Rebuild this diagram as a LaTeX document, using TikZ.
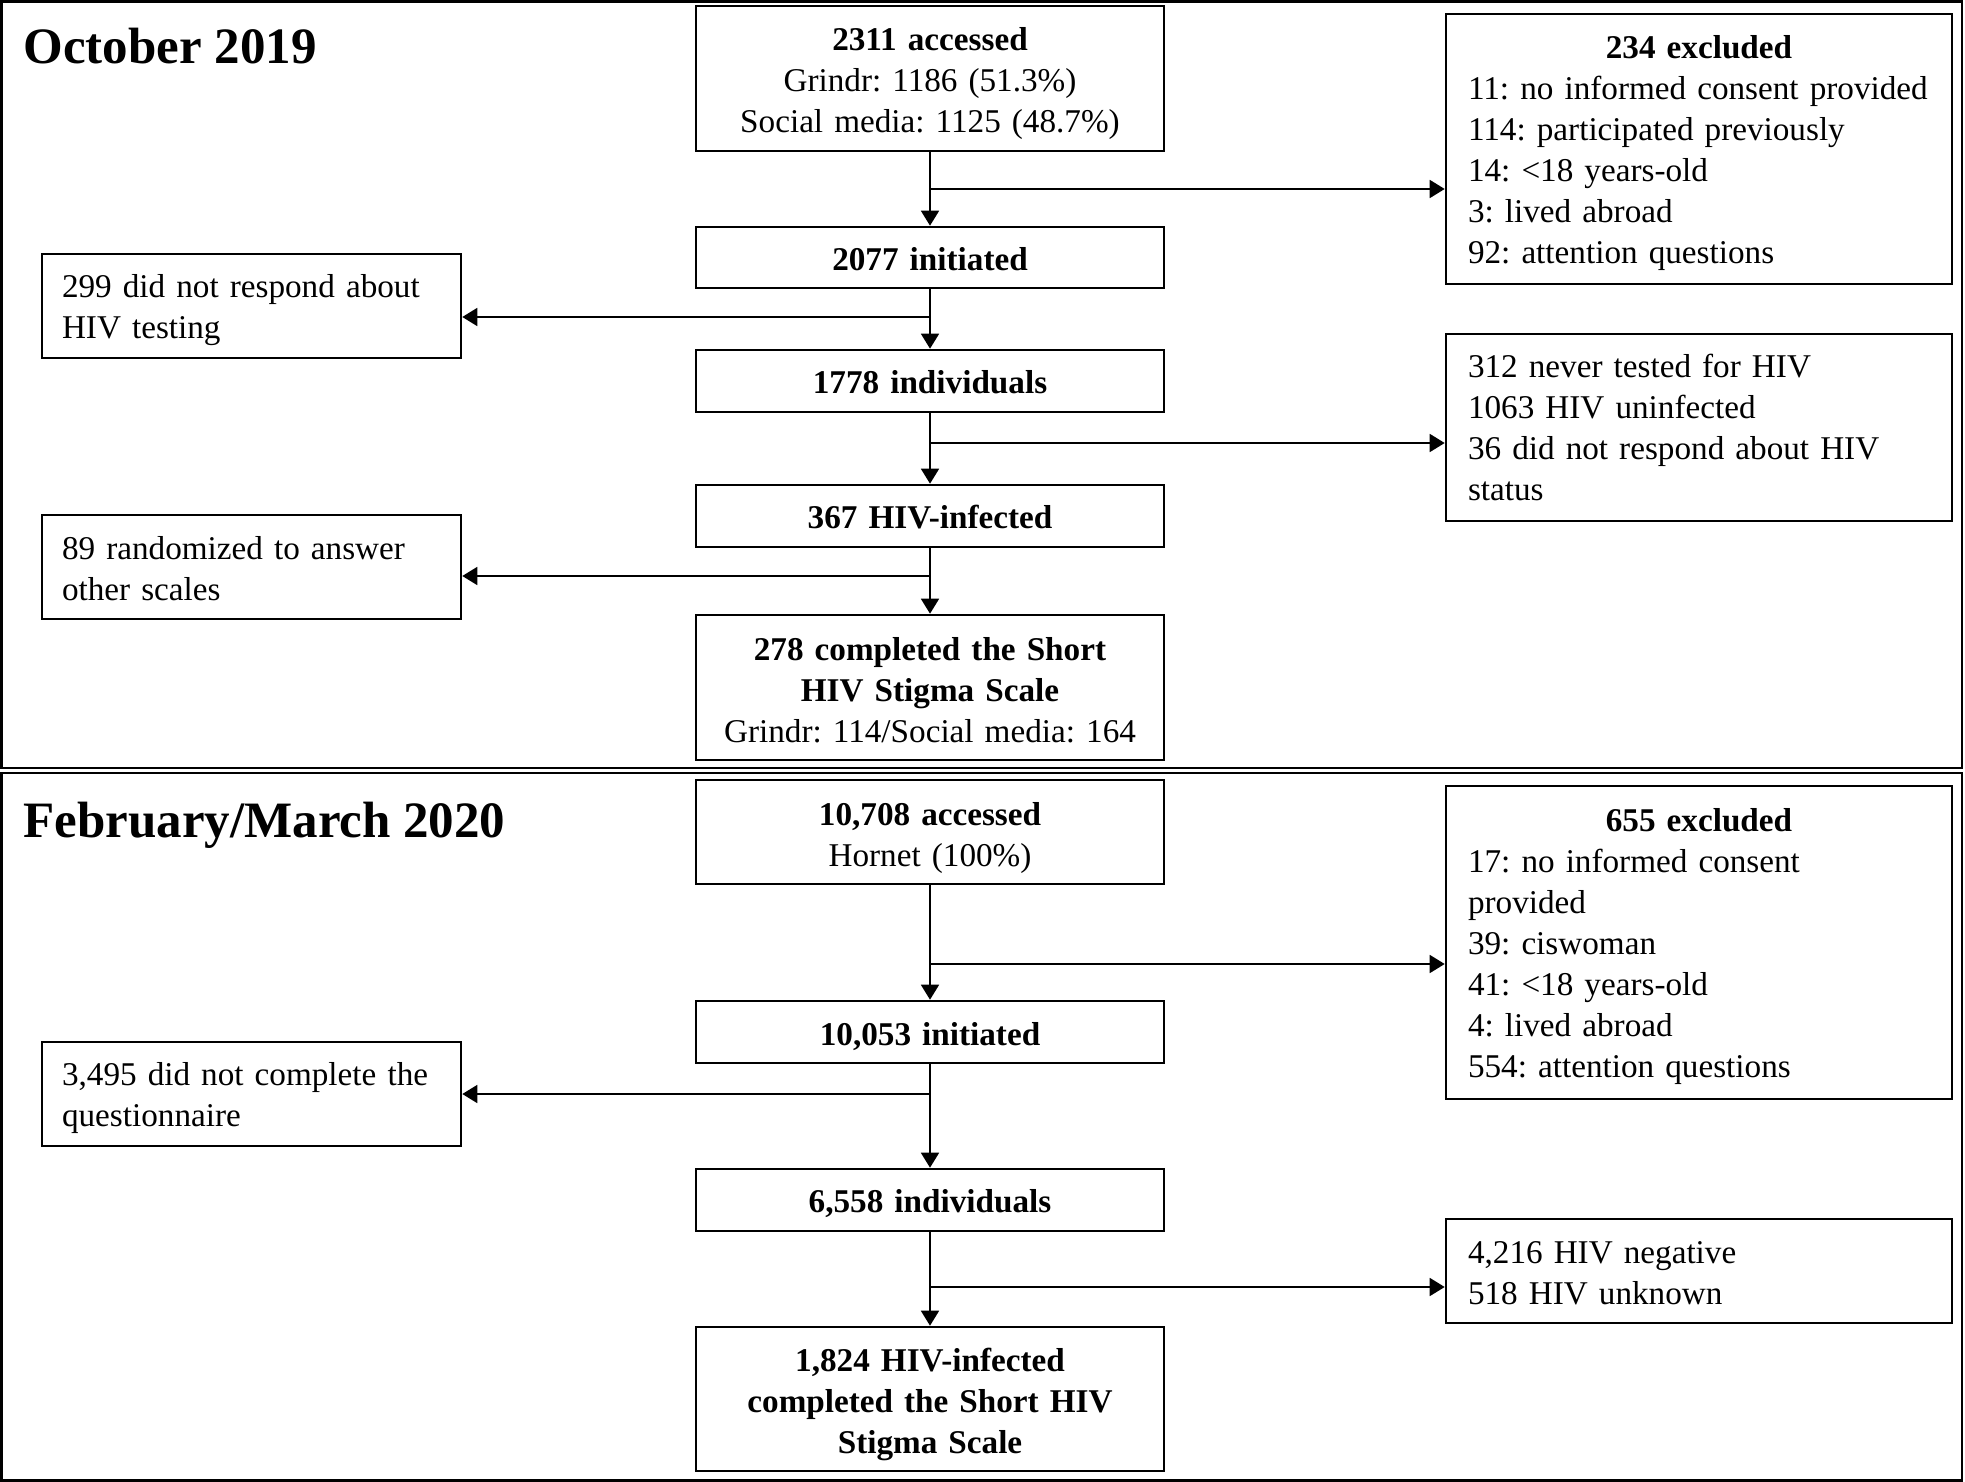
\documentclass[tikz,border=0pt]{standalone}
\usepackage{fontspec}
\setmainfont{Liberation Serif}
\usetikzlibrary{arrows.meta}
\begin{document}
\begin{tikzpicture}[x=0.5pt,y=-0.5pt,
  every node/.style={font=\fontsize{16.6}{20.5}\selectfont\frenchspacing},
  bx/.style={draw, line width=1.3pt, inner sep=0pt},
  cbox/.style={bx, minimum width=234pt},
  rbox/.style={bx, minimum width=253pt},
  lbox/.style={bx, minimum width=209.5pt},
  ctext/.style={inner sep=0pt, text width=230pt, align=center},
  rtext/.style={inner sep=0pt, text width=231pt, align=left},
  ltext/.style={inner sep=0pt, text width=189.5pt, align=left},
  ttl/.style={font=\fontsize{25.5}{30}\selectfont\bfseries, inner sep=0pt, anchor=base west},
  panel/.style={draw, line width=1.2pt},
  arr/.style={-{Triangle[length=7.5pt,width=9pt]}, line width=0.85pt}]
\useasboundingbox (0,0) rectangle (1965,1482);
% panels
\draw[panel] (1.5,1.5) rectangle (1962,768);
\draw[panel] (1.5,773) rectangle (1962,1480.5);
\node[ttl] (t1) at (23,64) {October 2019};
\node[ttl] (t2) at (23,837) {February/March 2020};
% ---------- top panel boxes ----------
\node[cbox, minimum height=72.5pt] (A) at (930,78.5) {};
\node[cbox, minimum height=30.5pt] (B) at (930,257.5) {};
\node[cbox, minimum height=31pt] (C) at (930,381) {};
\node[cbox, minimum height=31pt] (D) at (930,516) {};
\node[cbox, minimum height=72.5pt] (E) at (930,687.5) {};
\node[rbox, minimum height=135pt] (X1) at (1699,149) {};
\node[rbox, minimum height=93.5pt] (X2) at (1699,427.5) {};
\node[lbox, minimum height=52pt] (L1) at (251.5,306) {};
\node[lbox, minimum height=52pt] (L2) at (251.5,567) {};
% ---------- bottom panel boxes ----------
\node[cbox, minimum height=52pt] (F) at (930,832) {};
\node[cbox, minimum height=31pt] (G) at (930,1032) {};
\node[cbox, minimum height=31pt] (H) at (930,1200) {};
\node[cbox, minimum height=72pt] (I) at (930,1399) {};
\node[rbox, minimum height=156.5pt] (X3) at (1699,942.5) {};
\node[rbox, minimum height=52pt] (X4) at (1699,1271) {};
\node[lbox, minimum height=52pt] (L3) at (251.5,1094) {};
% ---------- texts ----------
\node[ctext] (At) at ([yshift=-2.5pt]A.center) {\textbf{2311 accessed}\\Grindr: 1186 (51.3\%)\\Social media: 1125 (48.7\%)};
\node[ctext] (Bt) at ([yshift=-0.6pt]B.center) {\textbf{2077 initiated}};
\node[ctext] (Ct) at ([yshift=-0.6pt]C.center) {\textbf{1778 individuals}};
\node[ctext] (Dt) at ([yshift=-0.6pt]D.center) {\textbf{367 HIV-infected}};
\node[ctext] (Et) at ([yshift=-1.25pt]E.center) {\textbf{278 completed the Short}\\\textbf{HIV Stigma Scale}\\Grindr: 114/Social media: 164};
\node[rtext] (X1t) at ([yshift=-2pt]X1.center) {\makebox[\linewidth]{\textbf{234 excluded}}\\11: no informed consent provided\\114: participated previously\\14: <18 years-old\\3: lived abroad\\92: attention questions};
\node[rtext] (X2t) at (X2.center) {312 never tested for HIV\\1063 HIV uninfected\\36 did not respond about HIV\\status};
\node[ltext] (L1t) at ([yshift=-2.2pt]L1.center) {299 did not respond about\\HIV testing};
\node[ltext] (L2t) at ([yshift=-1pt]L2.center) {89 randomized to answer\\other scales};
\node[ctext] (Ft) at ([yshift=-2.8pt]F.center) {\textbf{10,708 accessed}\\Hornet (100\%)};
\node[ctext] (Gt) at ([yshift=-2.5pt]G.center) {\textbf{10,053 initiated}};
\node[ctext] (Ht) at ([yshift=-1.9pt]H.center) {\textbf{6,558 individuals}};
\node[ctext] (It) at ([yshift=-2.5pt]I.center) {\textbf{1,824 HIV-infected}\\\textbf{completed the Short HIV}\\\textbf{Stigma Scale}};
\node[rtext] (X3t) at ([yshift=-2.2pt]X3.center) {\makebox[\linewidth]{\textbf{655 excluded}}\\17: no informed consent\\provided\\39: ciswoman\\41: <18 years-old\\4: lived abroad\\554: attention questions};
\node[rtext] (X4t) at ([yshift=-1pt]X4.center) {4,216 HIV negative\\518 HIV unknown};
\node[ltext] (L3t) at ([yshift=-2.2pt]L3.center) {3,495 did not complete the\\questionnaire};
% branch points
\coordinate (j1) at (930,189);
\coordinate (j2) at (930,317);
\coordinate (j3) at (930,443);
\coordinate (j4) at (930,576);
\coordinate (j5) at (930,964);
\coordinate (j6) at (930,1094);
\coordinate (j7) at (930,1287);
% connectors
\draw[arr] (A) -- (B);
\draw[arr] (B) -- (C);
\draw[arr] (C) -- (D);
\draw[arr] (D) -- (E);
\draw[arr] (F) -- (G);
\draw[arr] (G) -- (H);
\draw[arr] (H) -- (I);
\draw[arr] (j1) -- (j1 -| X1.west);
\draw[arr] (j2) -- (j2 -| L1.east);
\draw[arr] (j3) -- (j3 -| X2.west);
\draw[arr] (j4) -- (j4 -| L2.east);
\draw[arr] (j5) -- (j5 -| X3.west);
\draw[arr] (j6) -- (j6 -| L3.east);
\draw[arr] (j7) -- (j7 -| X4.west);
\end{tikzpicture}
\end{document}
